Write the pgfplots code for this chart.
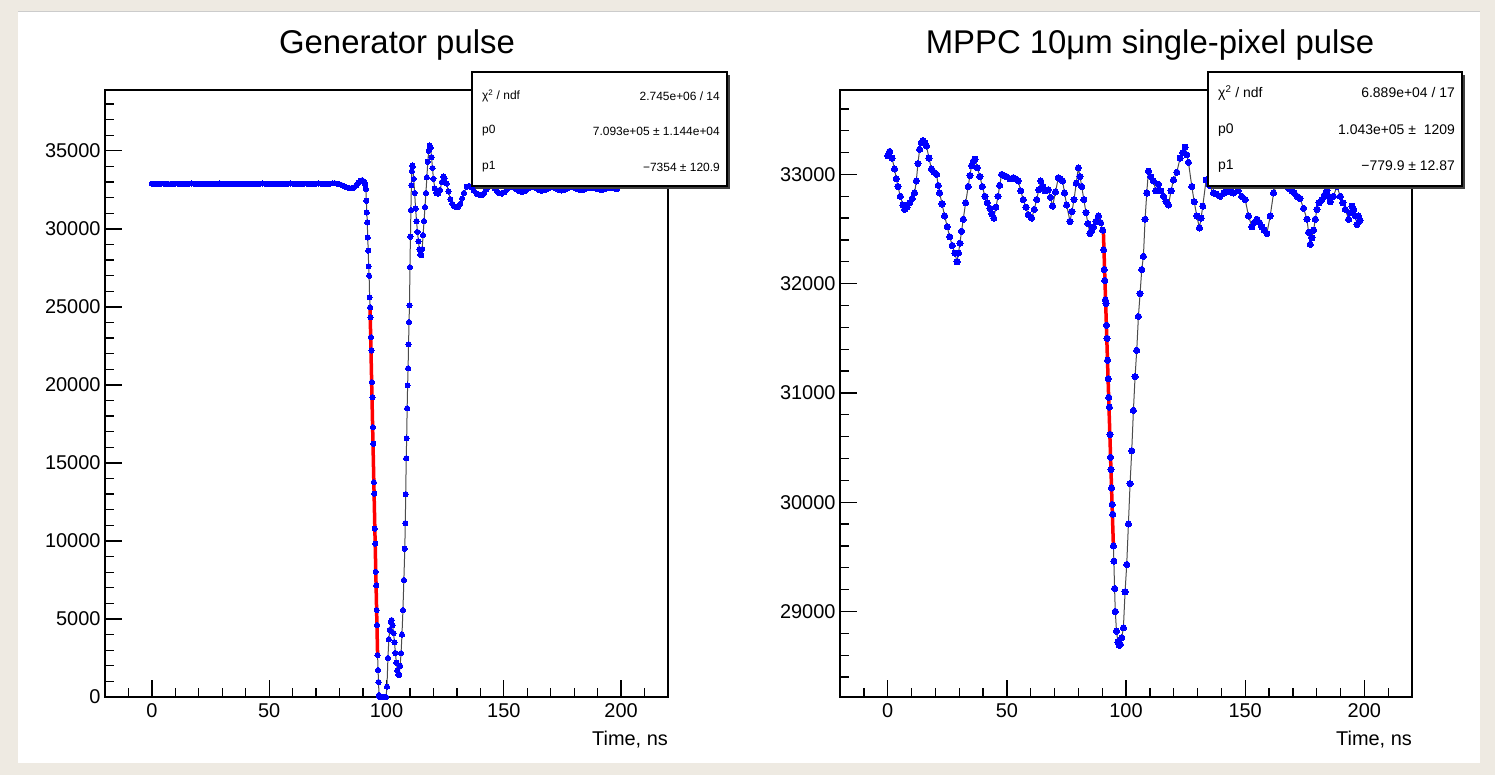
\documentclass[border=0pt]{standalone}
\usepackage{pgfplots}
\pgfplotsset{compat=1.18}
\usepackage{fontspec}
\setmainfont{Liberation Sans}
\definecolor{bgbeige}{RGB}{238,234,226}
\definecolor{rootblue}{RGB}{0,0,255}
\definecolor{rootred}{RGB}{255,0,0}
\pgfplotsset{
  rootaxis/.style={
    scale only axis,
    clip=false,
    axis line style={line width=1.6bp},
    every tick/.style={black, line width=1.3bp},
    major tick length=17bp,
    minor tick length=9bp,
    tick align=inside,
    xtick pos=left, ytick pos=left,
    xmin=-20, xmax=220,
    xtick={0,50,...,200},
    minor xtick={-10,0,...,210},
    scaled ticks=false,
    tick label style={font=\fontsize{20}{24}\selectfont},
    /pgf/number format/assume math mode=true,
    /pgf/number format/1000 sep={},
    xticklabel style={yshift=-3bp},
    yticklabel style={xshift=-1bp},
  },
  datastyle/.style={black!70, line width=1bp, mark=*, mark size=#1,
    mark options={fill=rootblue, draw=rootblue, line width=0pt}},
}
\begin{document}
\begin{tikzpicture}[x=1bp,y=1bp]
\useasboundingbox (0,0) rectangle (1495,775);
\fill[bgbeige] (0,0) rectangle (1495,775);
\fill[white] (18,12) rectangle (1480,763);
\draw[black!20, line width=1bp] (18,763) -- (1480,763);

% ---------------- left panel ----------------
\begin{axis}[rootaxis, at={(105bp,78bp)}, anchor=south west,
  width=563bp, height=607bp,
  ymin=0, ymax=38900,
  ytick={0,5000,...,35000},
  minor ytick={0,1000,...,38000}]
\addplot[datastyle=2.6bp] table[row sep=\\] {
t v\\
0 32900\\ 1 32890\\ 2 32880\\ 3 32890\\ 4 32900\\ 5 32900\\ 6 32890\\ 7 32880\\ 8 32880\\ 9 32890\\
10 32900\\ 11 32900\\ 12 32890\\ 13 32890\\ 14 32880\\ 15 32890\\ 16 32900\\ 17 32910\\ 18 32900\\ 19 32890\\
20 32880\\ 21 32880\\ 22 32890\\ 23 32900\\ 24 32900\\ 25 32890\\ 26 32880\\ 27 32890\\ 28 32900\\ 29 32910\\
30 32900\\ 31 32890\\ 32 32880\\ 33 32880\\ 34 32890\\ 35 32900\\ 36 32900\\ 37 32890\\ 38 32880\\ 39 32890\\
40 32900\\ 41 32900\\ 42 32890\\ 43 32880\\ 44 32880\\ 45 32890\\ 46 32900\\ 47 32910\\ 48 32900\\ 49 32890\\
50 32880\\ 51 32890\\ 52 32900\\ 53 32900\\ 54 32890\\ 55 32880\\ 56 32880\\ 57 32890\\ 58 32900\\ 59 32910\\
60 32900\\ 61 32890\\ 62 32880\\ 63 32880\\ 64 32890\\ 65 32900\\ 66 32900\\ 67 32890\\ 68 32880\\ 69 32890\\
70 32900\\ 71 32910\\ 72 32900\\ 73 32890\\ 74 32880\\ 75 32890\\ 76 32900\\ 77 32920\\ 78 32920\\ 79 32900\\
80 32860\\ 81 32800\\ 82 32720\\ 83 32660\\ 84 32620\\ 85 32610\\ 86 32640\\ 87 32760\\ 88 32950\\ 89 33080\\
89.6 33120\\ 90.2 33050\\ 90.6 32950\\ 91.0 32800\\ 91.2 32550\\ 91.4 31800\\ 91.6 31050\\ 91.8 30410\\
92.0 29450\\ 92.2 28600\\ 92.4 27600\\ 92.6 26990\\ 92.8 25610\\ 93.0 24970\\ 93.2 24330\\ 93.4 23050\\
93.6 22200\\ 93.8 20170\\ 94.0 19210\\ 94.2 17290\\ 94.4 16230\\ 94.6 13770\\ 94.8 13030\\ 95.0 10790\\
95.2 9830\\ 95.4 8020\\ 95.6 7160\\ 95.8 5570\\ 96.0 4610\\ 96.2 2690\\ 96.4 1730\\ 96.6 960\\ 96.8 130\\
97.0 0\\ 97.4 0\\ 97.8 0\\ 98.2 0\\ 98.6 0\\ 99.0 0\\ 99.4 0\\ 99.8 0\\
100.2 660\\ 100.6 2500\\ 101.0 3700\\ 101.4 4300\\ 101.8 4800\\ 102.2 4930\\ 102.6 4600\\ 103.0 4100\\
103.4 3500\\ 103.8 2820\\ 104.2 2200\\ 104.6 1700\\ 105.0 1450\\ 105.4 1400\\ 105.8 2000\\ 106.2 2800\\
106.6 4000\\ 107.0 5570\\ 107.4 7500\\ 107.8 9500\\ 108.0 11140\\ 108.2 13000\\ 108.4 15300\\ 108.6 16580\\
108.8 18500\\ 109.0 19970\\ 109.2 21060\\ 109.4 22600\\ 109.6 24030\\ 109.8 25100\\ 110.0 27540\\ 110.2 29500\\
110.4 31200\\ 110.6 32800\\ 110.8 33700\\ 111.0 34060\\ 111.2 34000\\ 111.6 33200\\ 112.0 32300\\ 112.4 31300\\
112.8 30500\\ 113.2 29800\\ 113.6 29200\\ 114.0 28700\\ 114.4 28350\\ 114.8 28300\\ 115.2 28700\\ 115.6 29600\\
116.0 30500\\ 116.4 31400\\ 116.8 32300\\ 117.2 33300\\ 117.6 34300\\ 118.0 35000\\ 118.4 35350\\ 118.8 35200\\
119.2 34600\\ 119.6 33900\\ 120.0 33200\\ 120.6 32600\\ 121.2 32300\\ 122.0 32250\\ 122.8 32500\\ 123.6 33000\\
124.2 33350\\ 124.8 33250\\ 125.6 32900\\ 126.4 32400\\ 127.2 31900\\ 128.0 31600\\ 128.8 31450\\ 129.6 31400\\
130.6 31420\\ 131.4 31600\\ 132.2 31950\\ 133.0 32300\\ 134.2 32700\\ 135.2 32750\\ 136.2 32650\\ 137.2 32450\\
138.4 32250\\ 139.6 32180\\ 140.6 32160\\ 141.6 32300\\ 142.6 32550\\ 143.4 32750\\ 144.1 32800\\ 145.0 32750\\
146.0 32600\\ 147.0 32420\\ 148.0 32300\\ 149.1 32260\\ 150.2 32350\\ 151.2 32500\\ 152.2 32640\\ 153.4 32690\\
154.4 32650\\ 155.4 32550\\ 156.4 32430\\ 157.7 32370\\ 158.8 32420\\ 159.8 32520\\ 160.8 32620\\ 162.0 32680\\
163.0 32650\\ 164.0 32580\\ 165.0 32500\\ 166.2 32440\\ 167.2 32470\\ 168.2 32550\\ 169.2 32620\\ 170.4 32670\\
171.4 32650\\ 172.4 32580\\ 173.4 32510\\ 174.6 32460\\ 175.6 32490\\ 176.6 32560\\ 177.6 32630\\ 178.8 32660\\
179.8 32640\\ 180.8 32580\\ 181.8 32520\\ 183.0 32480\\ 184.0 32510\\ 185.0 32570\\ 186.0 32630\\ 187.2 32650\\
188.2 32630\\ 189.2 32580\\ 190.2 32530\\ 191.4 32500\\ 192.4 32520\\ 193.4 32570\\ 194.4 32620\\ 195.6 32640\\
196.6 32620\\ 197.6 32580\\ 198.4 32560\\
};
\addplot[rootred, line width=3.5bp] coordinates {(93.0,24800) (96.2,2700)};
\end{axis}

% ---------------- right panel ----------------
\begin{axis}[rootaxis, at={(840bp,78bp)}, anchor=south west,
  width=572bp, height=607bp,
  ymin=28217, ymax=33773,
  ytick={29000,30000,...,33000},
  minor ytick={28400,28600,...,33600}]
\addplot[datastyle=3.1bp] table[row sep=\\] {
t v\\
0 33170\\ 0.8 33210\\ 1.8 33150\\ 2.9 33050\\ 3.6 32960\\ 4.3 32890\\ 5.3 32800\\ 6.4 32720\\ 7.1 32680\\
8.1 32700\\ 9.2 32740\\ 10.3 32780\\ 11.3 32830\\ 12.0 32940\\ 12.7 33100\\ 13.4 33230\\ 14.1 33290\\ 14.8 33310\\
15.6 33290\\ 16.3 33260\\ 17.3 33150\\ 18.4 33050\\ 19.4 33020\\ 20.5 33000\\ 21.2 32900\\ 21.8 32830\\ 22.8 32730\\
23.9 32620\\ 25.0 32520\\ 26.0 32430\\ 27.1 32350\\ 28.2 32280\\ 29.1 32200\\ 29.7 32280\\ 30.3 32370\\ 31.0 32480\\
31.7 32590\\ 32.7 32740\\ 33.8 32890\\ 34.5 32990\\ 35.2 33080\\ 35.9 33120\\ 36.6 33140\\ 37.6 33060\\ 38.7 32980\\
39.7 32890\\ 40.8 32800\\ 41.8 32740\\ 42.9 32690\\ 43.7 32640\\ 44.5 32600\\ 45.4 32700\\ 46.3 32800\\ 47.0 32900\\
47.8 33000\\ 48.8 32990\\ 49.9 32980\\ 51.3 32960\\ 52.7 32970\\ 53.7 32960\\ 54.8 32940\\ 55.8 32850\\ 56.9 32770\\
58.0 32700\\ 59.0 32630\\ 60.4 32600\\ 61.5 32680\\ 62.5 32770\\ 63.4 32860\\ 64.2 32940\\ 65.1 32890\\ 66.0 32850\\
67.4 32860\\ 68.3 32790\\ 69.2 32710\\ 70.4 32840\\ 71.6 32970\\ 72.5 32960\\ 73.4 32940\\ 74.2 32830\\ 75.1 32720\\
76.5 32570\\ 77.3 32660\\ 78.2 32770\\ 79.1 32920\\ 80.0 33060\\ 80.7 32980\\ 81.4 32890\\ 82.3 32770\\ 83.2 32650\\
84.0 32550\\ 84.9 32460\\ 85.6 32490\\ 86.3 32520\\ 87.4 32570\\ 88.4 32620\\ 89.3 32560\\ 90.2 32490\\
90.6 32310\\ 90.84 32130\\ 91.08 32030\\ 91.32 31850\\ 91.56 31820\\ 91.8 31620\\ 92.04 31500\\ 92.28 31300\\
92.52 31130\\ 92.76 30960\\ 93.0 30870\\ 93.24 30620\\ 93.48 30410\\ 93.72 30300\\ 93.96 30130\\ 94.2 29980\\
94.44 29890\\ 94.7 29600\\ 94.9 29460\\ 95.2 29210\\ 95.5 29000\\ 96.0 28820\\ 96.6 28720\\ 97.2 28690\\
97.6 28700\\ 98.2 28760\\ 98.9 28850\\ 99.6 29180\\ 100.3 29430\\ 101.0 29800\\ 101.7 30170\\ 102.4 30470\\
103.1 30840\\ 103.8 31150\\ 104.5 31390\\ 105.2 31700\\ 105.9 31910\\ 106.6 32130\\ 107.3 32250\\ 108.0 32590\\
108.7 32830\\ 109.4 33030\\ 110.4 32980\\ 111.5 32940\\ 112.5 32850\\ 113.6 32910\\ 114.6 32850\\ 115.7 32800\\
116.8 32750\\ 117.8 32720\\ 118.9 32850\\ 119.9 32950\\ 121.3 33020\\ 122.7 33150\\ 123.8 33200\\ 124.8 33250\\
125.5 33180\\ 126.2 33110\\ 127.6 32890\\ 128.6 32750\\ 129.7 32620\\ 130.8 32510\\ 131.5 32600\\ 132.2 32710\\
133.6 32950\\ 135.0 32900\\ 136.7 32830\\ 138.0 32820\\ 139.5 32800\\ 141.0 32830\\ 142.3 32860\\ 143.7 32840\\
145.1 32830\\ 147.0 32850\\ 148.5 32800\\ 150.0 32770\\ 151.4 32620\\ 152.8 32520\\ 153.8 32560\\ 154.9 32590\\
156.0 32560\\ 157.0 32520\\ 158.0 32490\\ 159.1 32460\\ 160.5 32620\\ 161.9 32830\\ 163.3 32920\\ 164.3 32950\\
165.4 32940\\ 166.5 32920\\ 167.5 32890\\ 168.5 32870\\ 169.6 32850\\ 170.6 32830\\ 171.7 32800\\ 173.0 32780\\
174.5 32690\\ 175.9 32590\\ 176.6 32470\\ 177.3 32360\\ 178.0 32420\\ 178.7 32490\\ 179.4 32590\\ 180.1 32680\\
181.0 32740\\ 182.2 32770\\ 183.2 32810\\ 184.3 32850\\ 185.0 32800\\ 185.7 32750\\ 187.0 32800\\ 188.5 32890\\
189.9 32800\\ 191.0 32740\\ 192.0 32680\\ 193.4 32590\\ 194.1 32650\\ 194.8 32710\\ 195.5 32680\\ 196.2 32620\\
196.9 32540\\ 197.5 32620\\ 198.2 32580\\
};
\addplot[rootred, line width=3.5bp] coordinates {(90.5,32480) (94.7,29600)};
\end{axis}

% ---------------- titles & axis labels ----------------
\node[font=\fontsize{33}{40}\selectfont, inner sep=0pt] at (397,730) {Generator pulse};
\node[font=\fontsize{33}{40}\selectfont, inner sep=0pt] at (1150,730) {MPPC 10μm single-pixel pulse};
\node[font=\fontsize{20}{24}\selectfont, anchor=east, inner sep=0pt] at (668,35) {Time, ns};
\node[font=\fontsize{20}{24}\selectfont, anchor=east, inner sep=0pt] at (1412,35) {Time, ns};

% ---------------- stats boxes ----------------
\fill[black!75] (475,586) rectangle (730,700);
\filldraw[fill=white, draw=black, line width=1.2bp] (472,589) rectangle (727,703);
\begin{scope}[every node/.style={font=\fontsize{12}{14}\selectfont, inner sep=0pt}]
\node[anchor=west] at (482,679) {χ\textsuperscript{2} / ndf};
\node[anchor=east] at (720,679) {2.745e+06 / 14};
\node[anchor=west] at (482,644) {p0};
\node[anchor=east] at (720,644) {7.093e+05 ± 1.144e+04};
\node[anchor=west] at (482,608) {p1};
\node[anchor=east] at (720,608) {−7354 ± 120.9};
\end{scope}

\fill[black!75] (1211,586) rectangle (1465,700);
\filldraw[fill=white, draw=black, line width=1.2bp] (1208,589) rectangle (1462,703);
\begin{scope}[every node/.style={font=\fontsize{14}{16}\selectfont, inner sep=0pt}]
\node[anchor=west] at (1218,682) {χ\textsuperscript{2} / ndf};
\node[anchor=east] at (1455,682) {6.889e+04 / 17};
\node[anchor=west] at (1218,645) {p0};
\node[anchor=east] at (1455,645) {1.043e+05 ±\ \ 1209};
\node[anchor=west] at (1218,609) {p1};
\node[anchor=east] at (1455,609) {−779.9 ± 12.87};
\end{scope}
\end{tikzpicture}
\end{document}
